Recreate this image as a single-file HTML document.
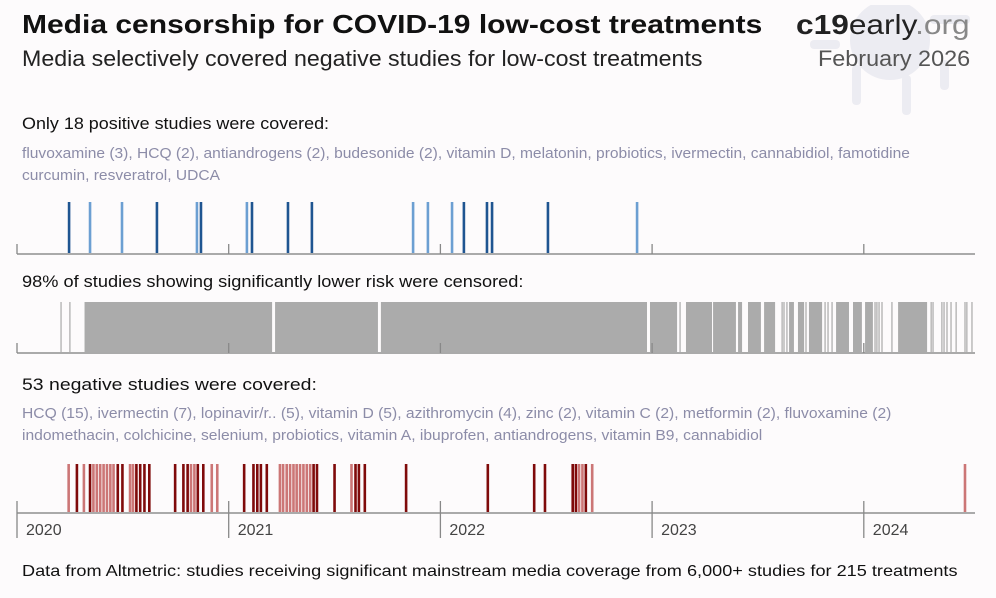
<!DOCTYPE html>
<html><head><meta charset="utf-8"><style>
body{margin:0;background:#fdfbfc;width:996px;height:598px;overflow:hidden;font-family:"Liberation Sans",sans-serif;position:relative}
.t{position:absolute;white-space:nowrap;transform-origin:0 0}
.r{transform-origin:100% 0}
</style></head><body>
<svg style="position:absolute;left:790px;top:5px" width="190" height="115">
<g fill="#e6e6ee" opacity="0.7"><circle cx="100" cy="35" r="40"/><rect x="62" y="60" width="9" height="40" rx="4"/><rect x="112" y="70" width="9" height="40" rx="4"/><rect x="150" y="55" width="9" height="30" rx="4"/><rect x="20" y="35" width="30" height="9" rx="4"/><rect x="140" y="10" width="40" height="9" rx="4"/></g></svg>
<div class="t" style="left:22px;top:9px;font-size:26px;font-weight:bold;color:#111;transform:scaleX(1.154)">Media censorship for COVID-19 low-cost treatments</div>
<div class="t" style="left:22px;top:46px;font-size:22px;color:#222;transform:scaleX(1.054)">Media selectively covered negative studies for low-cost treatments</div>
<div class="t r" style="right:26px;top:9px;font-size:28px;color:#222;transform:scaleX(1.13)"><b>c19</b>early<span style="color:#888">.org</span></div>
<div class="t r" style="right:26px;top:46px;font-size:22px;color:#555;transform:scaleX(1.063)">February 2026</div>
<div class="t" style="left:22px;top:114px;font-size:17px;color:#111;transform:scaleX(1.055)">Only 18 positive studies were covered:</div>
<div class="t" style="left:22px;top:143px;font-size:15px;line-height:22px;color:#8c8ca8;transform:scaleX(1.037)">fluvoxamine (3), HCQ (2), antiandrogens (2), budesonide (2), vitamin D, melatonin, probiotics, ivermectin, cannabidiol, famotidine<br>curcumin, resveratrol, UDCA</div>
<div class="t" style="left:22px;top:272px;font-size:17px;color:#111;transform:scaleX(1.07)">98% of studies showing significantly lower risk were censored:</div>
<div class="t" style="left:22px;top:375px;font-size:17px;color:#111;transform:scaleX(1.143)">53 negative studies were covered:</div>
<div class="t" style="left:22px;top:403px;font-size:15px;line-height:22px;color:#8c8ca8;transform:scaleX(1.042)">HCQ (15), ivermectin (7), lopinavir/r.. (5), vitamin D (5), azithromycin (4), zinc (2), vitamin C (2), metformin (2), fluvoxamine (2)<br>indomethacin, colchicine, selenium, probiotics, vitamin A, ibuprofen, antiandrogens, vitamin B9, cannabidiol</div>
<div class="t" style="left:22px;top:563px;font-size:16px;color:#111;transform:scaleX(1.133)">Data from Altmetric: studies receiving significant mainstream media coverage from 6,000+ studies for 215 treatments</div>
<svg id="c" style="position:absolute;left:0;top:0" width="996" height="598"></svg>
<script>
const years=[2020,2021,2022,2023,2024];
const posDates=[0.246,0.345,0.496,0.661,0.850,0.869,1.086,1.110,1.280,1.393,1.871,1.941,2.055,2.111,2.220,2.244,2.508,2.929];
const posDark=[1,0,0,1,0,1,0,1,1,1,0,0,0,1,1,1,1,0];
const negDates=[0.244,0.283,0.316,0.345,0.361,0.377,0.393,0.409,0.425,0.441,0.456,0.476,0.498,0.534,0.548,0.564,0.582,0.602,0.625,0.747,0.786,0.806,0.822,0.838,0.854,0.880,0.920,0.946,1.073,1.117,1.135,1.152,1.180,1.242,1.257,1.274,1.290,1.306,1.321,1.337,1.353,1.369,1.385,1.401,1.417,1.500,1.580,1.599,1.615,1.643,1.838,2.224,2.443,2.494,2.625,2.640,2.655,2.671,2.687,2.717,4.478];
const negDark=[0,1,0,1,0,0,0,0,0,0,0,1,1,0,0,1,1,1,1,1,1,1,0,0,1,1,0,0,1,1,1,1,1,0,0,0,0,0,0,0,0,0,0,1,1,1,0,1,1,1,1,1,1,1,1,1,0,0,1,0,0];
const censBandStart=[0.319,1.219,1.719,2.990,3.160,3.288,3.406,3.453,3.529,3.647,3.689,3.741,3.869,3.949,4.006,4.162];
const censBandEnd=[1.205,1.705,2.976,3.118,3.283,3.396,3.425,3.514,3.581,3.670,3.718,3.803,3.930,3.991,4.043,4.299];
const censLines=[0.208,0.250,3.132,3.614,3.623,3.637,3.727,3.817,3.831,3.850,4.053,4.062,4.072,4.086,4.133,4.318,4.327,4.369,4.379,4.393,4.412,4.436,4.478,4.487,4.511];
const X=v=>17+v*211.7;
const svg=document.getElementById('c');const NS='http://www.w3.org/2000/svg';
function mk(t,a){const e=document.createElementNS(NS,t);for(const k in a)e.setAttribute(k,a[k]);svg.appendChild(e);return e;}
function axis(y,tick,name){let e=mk('line',{x1:17,x2:975,y1:y,y2:y,stroke:'#aaa','stroke-width':2});


years.forEach((yr,i)=>{let t=mk('line',{x1:X(i),x2:X(i),y1:y-tick,y2:y+(name==='negative-axis'?25:0),stroke:'#888','stroke-width':1.3});

});}
posDates.forEach((d,i)=>{let b=mk('line',{x1:X(d),x2:X(d),y1:202,y2:254,stroke:posDark[i]?'#1f5591':'#6c9fd2','stroke-width':2.6});

});
axis(254,10,'positive-axis');
censBandStart.forEach((s,i)=>{let b=mk('rect',{x:X(s),y:302,width:X(censBandEnd[i])-X(s),height:51,fill:'#ababab'});

});
censLines.forEach(d=>{let b=mk('line',{x1:X(d),x2:X(d),y1:302,y2:353,stroke:'#999','stroke-width':1});

});
axis(353,10,'censored-axis');
negDates.forEach((d,i)=>{let b=mk('line',{x1:X(d),x2:X(d),y1:464,y2:513,stroke:negDark[i]?'#7f0a0a':'#cc7676','stroke-width':2.6});

});
axis(513,12,'negative-axis');
years.forEach((yr,i)=>{let t=mk('text',{x:X(i)+9,y:535,'font-size':16,fill:'#444','font-family':'Liberation Sans, sans-serif'});t.textContent=yr;

});
</script>
</body></html>
